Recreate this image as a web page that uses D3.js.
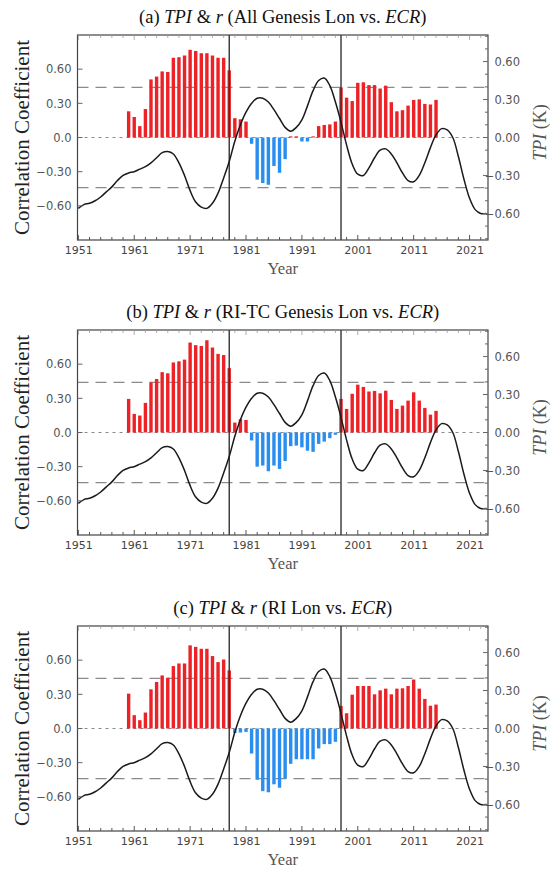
<!DOCTYPE html>
<html>
<head>
<meta charset="utf-8">
<script src="https://cdn.jsdelivr.net/npm/d3@7"></script>
<style>
  body { margin: 0; background: #fff; }
  svg { display: block; }
</style>
</head>
<body>
<svg id="chart" width="551" height="870"></svg>
<script>
// TPI annual series, 1951-2024 (K)
const tpiYears = d3.range(1951, 2025);
const tpi = [
  -0.56, -0.53, -0.52, -0.50, -0.47, -0.43, -0.39, -0.34, -0.30, -0.28,
  -0.27, -0.25, -0.23, -0.20, -0.16, -0.12, -0.11, -0.13, -0.20, -0.30,
  -0.42, -0.51, -0.55, -0.56, -0.52, -0.44, -0.32, -0.19, -0.03, 0.10,
  0.20, 0.27, 0.31, 0.31, 0.28, 0.22, 0.15, 0.08, 0.05, 0.08,
  0.14, 0.25, 0.37, 0.45, 0.47, 0.41, 0.28, 0.12, -0.06, -0.21,
  -0.29, -0.30, -0.24, -0.16, -0.10, -0.09, -0.13, -0.20, -0.28, -0.34,
  -0.35, -0.30, -0.20, -0.08, 0.02, 0.07, 0.06, 0.00, -0.15, -0.33,
  -0.48, -0.57, -0.60, -0.60
];

// running correlation, centre years 1960-2015
const barYears = d3.range(1960, 2016);
const rAll = [
  0.23, 0.18, 0.10, 0.25, 0.51, 0.535, 0.58, 0.575, 0.70, 0.705,
  0.72, 0.77, 0.76, 0.74, 0.74, 0.72, 0.70, 0.70, 0.59, 0.17,
  0.16, 0.14, -0.055, -0.37, -0.40, -0.415, -0.25, -0.31, -0.19, 0.01,
  0.01, -0.035, -0.035, 0.01, 0.10, 0.11, 0.115, 0.14, 0.44, 0.35,
  0.32, 0.48, 0.485, 0.46, 0.46, 0.43, 0.455, 0.31, 0.23, 0.24,
  0.28, 0.33, 0.335, 0.295, 0.29, 0.33
];
const rRiTc = [
  0.295, 0.163, 0.149, 0.26, 0.44, 0.47, 0.53, 0.52, 0.615, 0.625,
  0.64, 0.79, 0.767, 0.76, 0.81, 0.746, 0.69, 0.68, 0.565, 0.087,
  0.117, 0.11, -0.07, -0.30, -0.29, -0.34, -0.29, -0.32, -0.25, -0.12,
  -0.115, -0.13, -0.16, -0.17, -0.10, -0.08, -0.05, -0.02, 0.295, 0.207,
  0.34, 0.42, 0.40, 0.36, 0.365, 0.344, 0.367, 0.286, 0.207, 0.236,
  0.28, 0.353, 0.28, 0.216, 0.157, 0.19
];
const rRi = [
  0.306, 0.117, 0.073, 0.14, 0.344, 0.408, 0.466, 0.446, 0.548, 0.571,
  0.571, 0.73, 0.717, 0.70, 0.70, 0.636, 0.583, 0.606, 0.51, -0.04,
  -0.035, -0.03, -0.22, -0.45, -0.55, -0.56, -0.49, -0.52, -0.44, -0.31,
  -0.27, -0.27, -0.27, -0.27, -0.175, -0.137, -0.137, -0.117, 0.198, 0.134,
  0.297, 0.373, 0.373, 0.373, 0.30, 0.335, 0.35, 0.30, 0.35, 0.353,
  0.373, 0.43, 0.35, 0.26, 0.20, 0.21
];

const panels = [
  { label: "(a) ", subject: "All Genesis Lon", r: rAll },
  { label: "(b) ", subject: "RI-TC Genesis Lon", r: rRiTc },
  { label: "(c) ", subject: "RI Lon", r: rRi }
];

const shiftYears = [1978, 1998];
const sigLevel = 0.44;
const leftTicks = [0.6, 0.3, 0, -0.3, -0.6];
const rightTicks = [0.6, 0.3, 0, -0.3, -0.6];
const yearTicks = [1951, 1961, 1971, 1981, 1991, 2001, 2011, 2021];

const svg = d3.select("#chart");
const tops = [35, 330, 626];
const plotH = 205;
const left = 77.5, right = 488;

const x = d3.scaleLinear().domain([1950.85, 2024.3]).range([left, right]);

panels.forEach((p, i) => {
  const top = tops[i];
  const g = svg.append("g");
  const y = d3.scaleLinear().domain([-0.9, 0.9]).range([top + plotH, top]);
  const y2 = d3.scaleLinear().domain([-0.81, 0.81]).range([top + plotH, top]);

  // title
  const t = g.append("text")
    .attr("x", (left + right) / 2).attr("y", top - 12)
    .attr("text-anchor", "middle")
    .style("font-family", "Liberation Serif").style("font-size", "18.5px").attr("fill", "#111");
  t.append("tspan").text(p.label);
  t.append("tspan").style("font-style", "italic").text("TPI");
  t.append("tspan").text(" & ");
  t.append("tspan").style("font-style", "italic").text("r");
  t.append("tspan").text(" (" + p.subject + " vs. ");
  t.append("tspan").style("font-style", "italic").text("ECR");
  t.append("tspan").text(")");

  // reference lines
  [sigLevel, -sigLevel].forEach(v => {
    g.append("line")
      .attr("x1", left).attr("x2", right).attr("y1", y(v)).attr("y2", y(v))
      .attr("stroke", "#8a8a8a").attr("stroke-width", 1.3).attr("stroke-dasharray", "11,7");
  });
  g.append("line")
    .attr("x1", left).attr("x2", right).attr("y1", y(0)).attr("y2", y(0))
    .attr("stroke", "#8a8a8a").attr("stroke-width", 1.2).attr("stroke-dasharray", "3,4");

  // bars
  const bw = 3.4;
  g.selectAll("rect.bar")
    .data(barYears.map((yr, k) => ({ yr, v: p.r[k] })))
    .enter().append("rect")
    .attr("class", "bar")
    .attr("x", d => x(d.yr) - bw / 2)
    .attr("width", bw)
    .attr("y", d => Math.min(y(d.v), y(0)))
    .attr("height", d => Math.abs(y(d.v) - y(0)))
    .attr("fill", d => d.v >= 0 ? "#ec2226" : "#2a8ef0");

  // regime shift lines
  shiftYears.forEach(yr => {
    g.append("line")
      .attr("x1", x(yr)).attr("x2", x(yr)).attr("y1", top).attr("y2", top + plotH)
      .attr("stroke", "#333").attr("stroke-width", 1.4);
  });

  // TPI curve
  const line = d3.line()
    .x((d, k) => x(tpiYears[k]))
    .y(d => y2(d))
    .curve(d3.curveCatmullRom.alpha(0.5));
  g.append("path")
    .datum(tpi)
    .attr("d", line)
    .attr("fill", "none").attr("stroke", "#1a1a1a").attr("stroke-width", 1.5);

  // frame
  g.append("rect")
    .attr("x", left).attr("y", top).attr("width", right - left).attr("height", plotH)
    .attr("fill", "none").attr("stroke", "#444").attr("stroke-width", 1.2);

  // x ticks (every 2 years, inward, bottom and top)
  const xMinor = d3.range(1951, 2025, 2);
  xMinor.forEach(yr => {
    const major = yearTicks.includes(yr);
    const len = major ? 5 : 3;
    g.append("line").attr("x1", x(yr)).attr("x2", x(yr))
      .attr("y1", top + plotH).attr("y2", top + plotH - len)
      .attr("stroke", "#555").attr("stroke-width", 1);
    g.append("line").attr("x1", x(yr)).attr("x2", x(yr))
      .attr("y1", top).attr("y2", top + len)
      .attr("stroke", "#999").attr("stroke-width", 0.8);
  });

  // x axis labels
  const xAxis = d3.axisBottom(x).tickValues(yearTicks).tickSize(0).tickPadding(6)
    .tickFormat(d3.format("d"));
  const xa = g.append("g").attr("transform", `translate(0,${top + plotH})`).call(xAxis);
  xa.select(".domain").remove();
  xa.selectAll("text").style("font-family", "DejaVu Sans").style("font-size", "11px").attr("fill", "#444");

  // left axis
  const yAxis = d3.axisLeft(y).tickValues(leftTicks).tickSize(0).tickPadding(6)
    .tickFormat(d => d === 0 ? "0.0" : d3.format(".2f")(d));
  const ya = g.append("g").attr("transform", `translate(${left},0)`).call(yAxis);
  ya.select(".domain").remove();
  ya.selectAll("text").style("font-family", "DejaVu Sans").style("font-size", "11.5px").attr("fill", "#555");
  leftTicks.forEach(v => {
    g.append("line").attr("x1", left).attr("x2", left + 5).attr("y1", y(v)).attr("y2", y(v))
      .attr("stroke", "#666").attr("stroke-width", 1);
  });

  // right axis
  const yAxis2 = d3.axisRight(y2).tickValues(rightTicks).tickSize(0).tickPadding(0)
    .tickFormat(d => d3.format(".2f")(d).replace("-", "\u2212"));
  const ya2 = g.append("g").attr("transform", `translate(${right},0)`).call(yAxis2);
  ya2.select(".domain").remove();
  ya2.selectAll("text").attr("x", 32).attr("text-anchor", "end")
    .style("font-family", "DejaVu Sans").style("font-size", "11.5px").attr("fill", "#555");
  d3.range(-8, 9).forEach(k => {
    const v = k / 10;
    const major = k % 3 === 0;
    g.append("line").attr("x1", right).attr("x2", right - (major ? 5 : 3))
      .attr("y1", y2(v)).attr("y2", y2(v))
      .attr("stroke", "#666").attr("stroke-width", 1);
  });

  // axis titles
  g.append("text")
    .attr("transform", `translate(29,${top + plotH / 2}) rotate(-90)`)
    .attr("text-anchor", "middle")
    .style("font-family", "Liberation Serif").style("font-size", "21px").attr("fill", "#222")
    .text("Correlation Coefficient");

  const rt = g.append("text")
    .attr("transform", `translate(546,${top + plotH / 2 - 5}) rotate(-90)`)
    .attr("text-anchor", "middle")
    .style("font-family", "Liberation Serif").style("font-size", "18px").attr("fill", "#555");
  rt.append("tspan").style("font-style", "italic").text("TPI");
  rt.append("tspan").text(" (K)");

  g.append("text")
    .attr("x", (left + right) / 2).attr("y", top + plotH + 34)
    .attr("text-anchor", "middle")
    .style("font-family", "Liberation Serif").style("font-size", "16.5px").attr("fill", "#555")
    .text("Year");
});
</script>
</body>
</html>
